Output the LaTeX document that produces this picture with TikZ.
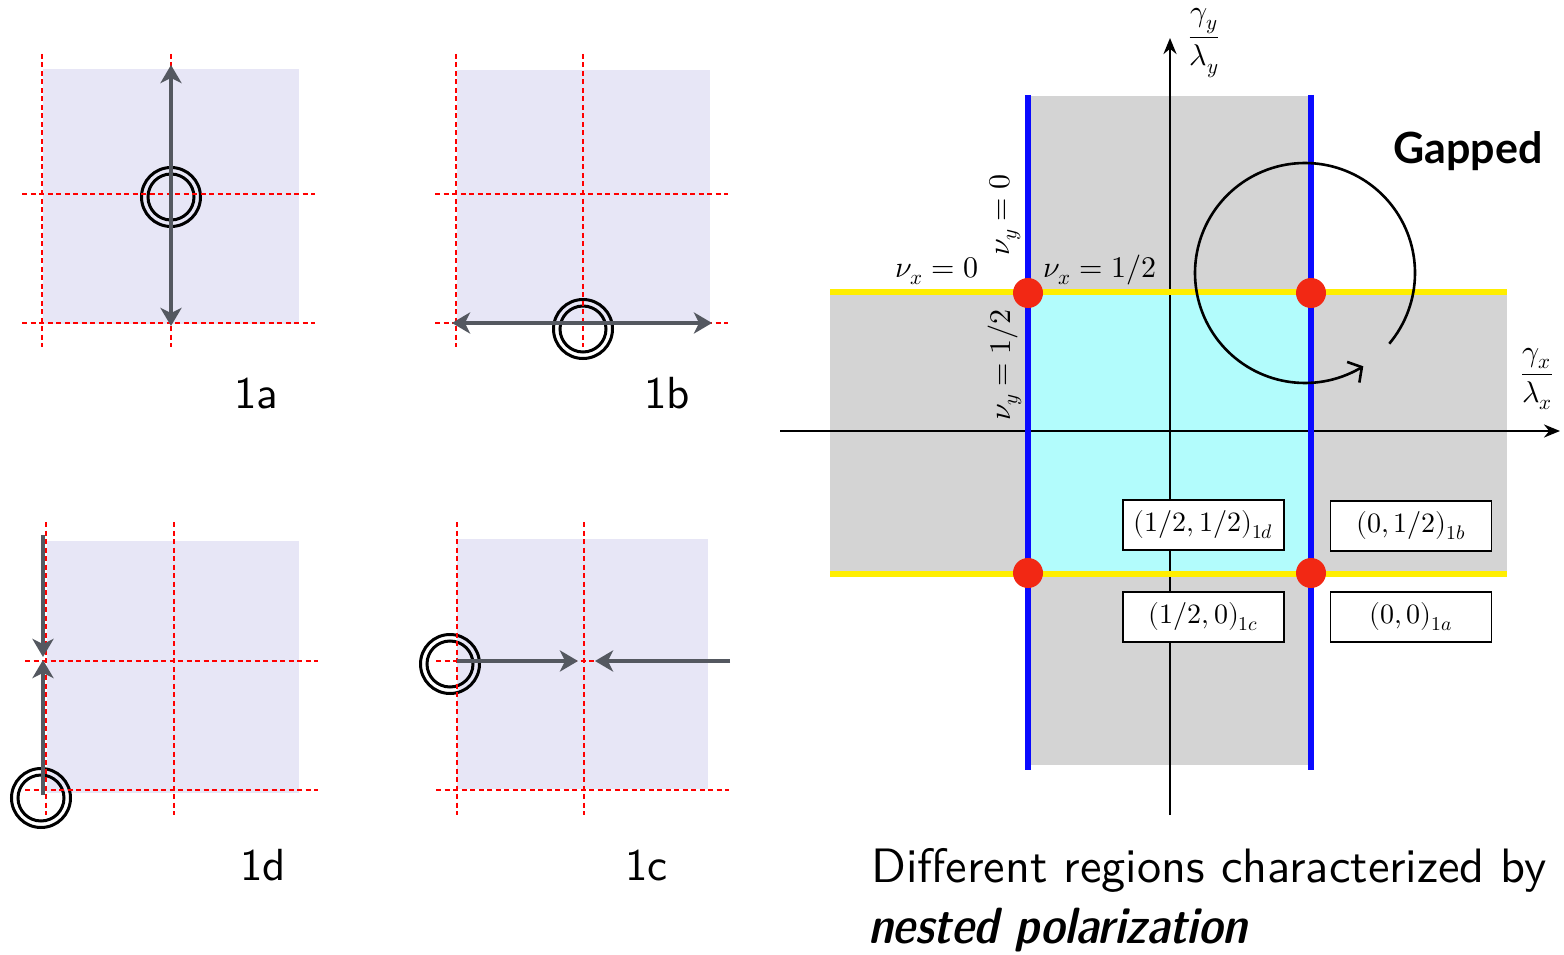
\documentclass[tikz,border=0pt]{standalone}
\usepackage{fontspec}
\usepackage{unicode-math}
\setmathfont{Latin Modern Math}
\newfontfamily\latofont{Lato}
\newfontfamily\lmsr{lmsans10-regular.otf}
\newfontfamily\lmsdc{lmsansdemicond10-oblique.otf}
\usetikzlibrary{arrows.meta}
\definecolor{lav}{RGB}{231,230,246}
\definecolor{agray}{RGB}{84,88,96}
\definecolor{rgray}{RGB}{212,212,212}
\definecolor{rcyan}{RGB}{178,252,252}
\definecolor{dotred}{RGB}{242,40,20}
\definecolor{ylw}{RGB}{255,238,0}
\definecolor{bluel}{RGB}{10,10,255}
\begin{document}
\begin{tikzpicture}[x=1pt,y=-1pt,
  reddash/.style={red, line width=2.4pt, dash pattern=on 5pt off 3.5pt},
  dcirc/.style={draw=black, line width=3pt},
  garrow/.style={draw=agray, line width=4pt},
  axisline/.style={draw=black, line width=2.6pt, -{Stealth[length=16pt,width=13pt]}},
  ylwline/.style={draw=ylw, line width=6pt},
  blueline/.style={draw=bluel, line width=6pt},
  reddot/.style={circle, fill=dotred, minimum size=30pt, inner sep=0pt},
  lbox/.style={draw=black, fill=white, line width=1.4pt, minimum width=161pt, minimum height=50pt, inner sep=0pt, font=\fontsize{28}{32}\selectfont},
  mlabel/.style={inner sep=0pt, font=\fontsize{30}{34}\selectfont},
  plabel/.style={anchor=base west, inner sep=0pt, font=\lmsr\fontsize{45}{54}\selectfont},
  caption/.style={anchor=base west, inner sep=0pt, font=\lmsr\fontsize{48.3}{58}\selectfont}
]
\useasboundingbox (0,0) rectangle (1564,955);
\tikzset{>={Stealth[length=18pt,width=21pt,inset=5pt]}}

% ---------- panel 1a ----------
\fill[lav] (43,69) rectangle (299,324);
\draw[dcirc] (171,197) circle[radius=29.5pt] (171,197) circle[radius=23pt];
\draw[reddash] (42,54) -- (42,347) (171,54) -- (171,347) (22,194) -- (315,194) (22,323) -- (315,323);
\coordinate (a1t) at (171,65);
\coordinate (a1b) at (171,326);
\draw[garrow,<->] (a1t) -- (a1b);
\node[plabel] (l1a) at (234,408) {1a};

% ---------- panel 1b ----------
\fill[lav] (457,70) rectangle (710,323);
\draw[dcirc] (583,329) circle[radius=29.5pt] (583,329) circle[radius=23pt];
\draw[reddash] (456,54) -- (456,347) (583,54) -- (583,347) (435,194) -- (728,194) (435,323) -- (728,323);
\coordinate (b1l) at (452,323);
\coordinate (b1r) at (712,323);
\draw[garrow,<->] (b1l) -- (b1r);
\node[plabel] (l1b) at (644,408) {1b};

% ---------- panel 1d ----------
\fill[lav] (47,541) rectangle (299,793);
\draw[dcirc] (41,798) circle[radius=29.5pt] (41,798) circle[radius=23pt];
\draw[reddash] (46,522) -- (46,815) (174,522) -- (174,815) (25,661) -- (318,661) (25,790) -- (318,790);
\coordinate (d1s) at (43,535);
\coordinate (d1m) at (43,657);
\coordinate (d2s) at (43,795);
\coordinate (d2m) at (43,660);
\draw[garrow,->] (d1s) -- (d1m);
\draw[garrow,->] (d2s) -- (d2m);
\node[plabel] (l1d) at (240,880) {1d};

% ---------- panel 1c ----------
\fill[lav] (457,539) rectangle (708,789);
\draw[dcirc] (450,664) circle[radius=29.5pt] (450,664) circle[radius=23pt];
\draw[reddash] (457,522) -- (457,815) (584,522) -- (584,815) (436,661) -- (729,661) (436,790) -- (729,790);
\coordinate (c1s) at (457,661);
\coordinate (c1m) at (578,661);
\coordinate (c2s) at (730,661);
\coordinate (c2m) at (595,661);
\draw[garrow,->] (c1s) -- (c1m);
\draw[garrow,->] (c2s) -- (c2m);
\node[plabel] (l1c) at (625,880) {1c};

% ---------- right panel ----------
\fill[rgray] (1030,96) rectangle (1310,765);
\fill[rgray] (830,293) rectangle (1507,575);
\fill[rcyan] (1030,293) rectangle (1310,573);

\coordinate (yb) at (1170,815);
\coordinate (yt) at (1170,38);
\coordinate (xl) at (780,431);
\coordinate (xr) at (1560,431);
\draw[axisline] (yb) -- (yt);
\draw[axisline] (xl) -- (xr);

\coordinate (y1l) at (830,292); \coordinate (y1r) at (1507,292);
\coordinate (y2l) at (830,574); \coordinate (y2r) at (1507,574);
\draw[ylwline] (y1l) -- (y1r);
\draw[ylwline] (y2l) -- (y2r);
\coordinate (v1t) at (1028,95); \coordinate (v1b) at (1028,770);
\coordinate (v2t) at (1311,95); \coordinate (v2b) at (1311,770);
\draw[blueline] (v1t) -- (v1b);
\draw[blueline] (v2t) -- (v2b);

\node[reddot] (p1) at (1028,293) {};
\node[reddot] (p2) at (1311,293) {};
\node[reddot] (p3) at (1028,573) {};
\node[reddot] (p4) at (1311,573) {};

\node[lbox] (b1d) at (1203.5,525) {$(1/2,1/2)_{1d}$};
\node[lbox] (b1b) at (1411,526) {$(0,1/2)_{1b}$};
\node[lbox] (b1c) at (1203.5,617) {$(1/2,0)_{1c}$};
\node[lbox] (b1a) at (1411,617) {$(0,0)_{1a}$};

\node[mlabel] (nx0) at (937,271) {$\nu_x=0$};
\node[mlabel] (nxh) at (1100,270) {$\nu_x=1/2$};
\node[mlabel, rotate=90] (ny0) at (1005,215) {$\nu_y=0$};
\node[mlabel, rotate=90] (nyh) at (1005,365) {$\nu_y=1/2$};

\node[mlabel] (gy) at (1204,43) {$\dfrac{\gamma_y}{\lambda_y}$};
\node[mlabel] (gx) at (1537,379) {$\dfrac{\gamma_x}{\lambda_x}$};

\node[anchor=base west, inner sep=0pt, font=\latofont\bfseries\fontsize{43}{50}\selectfont] (gap) at (1393,164) {Gapped};

\draw[line width=2.6pt, {Straight Barb[length=10pt,width=24pt]}-]
  plot[domain=-302:40, samples=140] ({1305+110*cos(\x)},{273+110*sin(\x)});

\node[caption] (cap1) at (871,882) {Different regions characterized by};
\node[caption, font=\lmsdc\fontsize{51}{60}\selectfont] (cap2) at (868,943) {nested polarization};
\end{tikzpicture}
\end{document}
